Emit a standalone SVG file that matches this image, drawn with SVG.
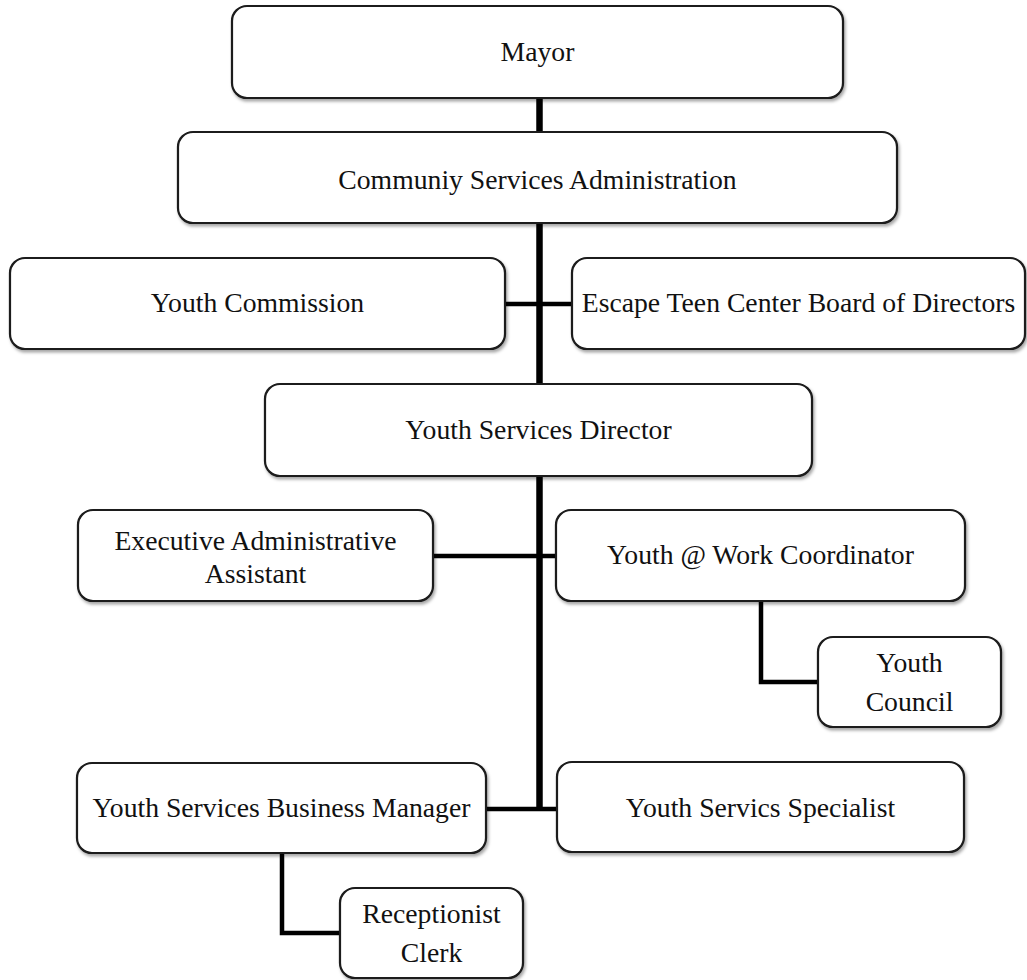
<svg xmlns="http://www.w3.org/2000/svg" width="1027" height="980" viewBox="0 0 1027 980">
  <defs>
    <filter id="shadow" x="-5%" y="-10%" width="110%" height="130%">
      <feDropShadow dx="1.5" dy="2.5" stdDeviation="1.6" flood-color="#000" flood-opacity="0.35"/>
    </filter>
  </defs>
  <style>
    .box { fill: #ffffff; stroke: #1a1a1a; stroke-width: 2.2; filter: url(#shadow); }
    .label { font-family: "Liberation Serif", "Times New Roman", serif; font-size: 27.7px; fill: #111; text-anchor: middle; }
    .trunk { stroke: #000; stroke-width: 6.5; fill: none; }
    .branch { stroke: #000; stroke-width: 4.5; fill: none; }
  </style>

  <rect width="1027" height="980" fill="#ffffff"/>

  <!-- connectors -->
  <g id="connectors">
    <line class="trunk" x1="539.5" y1="96" x2="539.5" y2="811"/>
    <line class="branch" x1="504" y1="304" x2="573" y2="304"/>
    <line class="branch" x1="432" y1="556" x2="557" y2="556"/>
    <line class="branch" x1="485" y1="809" x2="558" y2="809"/>
    <polyline class="branch" points="761,600 761,682 819,682" stroke-width="5"/>
    <polyline class="branch" points="282,852 282,933 341,933" stroke-width="5"/>
  </g>

  <g id="mayor">
    <rect class="box" x="232" y="6" width="611" height="92" rx="15"/>
    <text class="label" x="537.5" y="61">Mayor</text>
  </g>

  <g id="community-services">
    <rect class="box" x="178" y="132" width="719" height="91" rx="15"/>
    <text class="label" x="537.5" y="189">Communiy Services Administration</text>
  </g>

  <g id="youth-commission">
    <rect class="box" x="10" y="258" width="495" height="91" rx="15"/>
    <text class="label" x="257.5" y="312">Youth Commission</text>
  </g>

  <g id="escape-board">
    <rect class="box" x="572" y="258" width="453" height="91" rx="15"/>
    <text class="label" x="798.5" y="312">Escape Teen Center Board of Directors</text>
  </g>

  <g id="youth-services-director">
    <rect class="box" x="265" y="384" width="547" height="92" rx="15"/>
    <text class="label" x="538.5" y="439">Youth Services Director</text>
  </g>

  <g id="exec-assistant">
    <rect class="box" x="78" y="510" width="355" height="91" rx="15"/>
    <text class="label" x="255.5" y="550">Executive Administrative</text>
    <text class="label" x="255.5" y="583">Assistant</text>
  </g>

  <g id="work-coordinator">
    <rect class="box" x="556" y="510" width="409" height="91" rx="15"/>
    <text class="label" x="760.5" y="564">Youth @ Work Coordinator</text>
  </g>

  <g id="youth-council">
    <rect class="box" x="818" y="637" width="183" height="90" rx="15"/>
    <text class="label" x="909.5" y="672">Youth</text>
    <text class="label" x="909.5" y="711">Council</text>
  </g>

  <g id="business-manager">
    <rect class="box" x="77" y="763" width="409" height="90" rx="15"/>
    <text class="label" x="281.5" y="817">Youth Services Business Manager</text>
  </g>

  <g id="specialist">
    <rect class="box" x="557" y="762" width="407" height="90" rx="15"/>
    <text class="label" x="760.5" y="817">Youth Servics Specialist</text>
  </g>

  <g id="receptionist">
    <rect class="box" x="340" y="888" width="183" height="90" rx="15"/>
    <text class="label" x="431.5" y="923">Receptionist</text>
    <text class="label" x="431.5" y="962">Clerk</text>
  </g>
</svg>
